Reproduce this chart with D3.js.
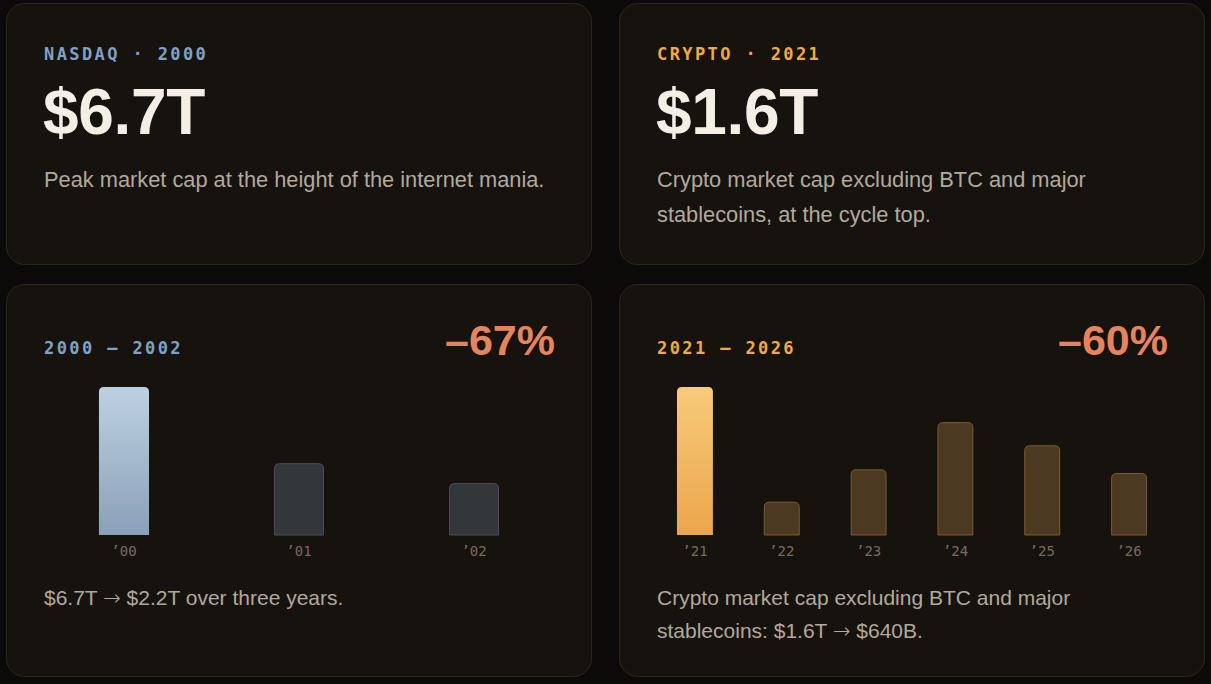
<!DOCTYPE html>
<html>
<head>
<meta charset="utf-8">
<script src="https://cdn.jsdelivr.net/npm/d3@7"></script>
<style>
  html, body { margin: 0; padding: 0; background: #0b0a09; }
  svg { display: block; }
</style>
</head>
<body>
<div id="chart"></div>
<script>
// data
const nasdaqYears = ["\u201900", "\u201901", "\u201902"];
const nasdaqValues = [6.7, 3.25, 2.35];          // $T, bar heights
const cryptoYears = ["\u201921", "\u201922", "\u201923", "\u201924", "\u201925", "\u201926"];
const cryptoValues = [1.6, 0.36, 0.71, 1.22, 0.97, 0.67]; // $T excl. BTC + stables

const headlines = ["NASDAQ \u00b7 2000", "CRYPTO \u00b7 2021"];
const bigNumbers = ["$6.7T", "$1.6T"];
const rangeLabels = ["2000 \u2013 2002", "2021 \u2013 2026"];
const drawdowns = ["\u201367%", "\u201360%"];
const topNotes = [
    ["Peak market cap at the height of the internet mania."],
    ["Crypto market cap excluding BTC and major", "stablecoins, at the cycle top."]
];
const bottomNotes = [
    ["$6.7T \u2192 $2.2T over three years."],
    ["Crypto market cap excluding BTC and major", "stablecoins: $1.6T \u2192 $640B."]
];

const width = 1211, height = 684;
const sans = "'Liberation Sans', Arial, sans-serif";
const mono = "'DejaVu Sans Mono', monospace";
const accent = ["#7fa1c5", "#f2a93e"];

const svg = d3.select("#chart")
    .append("svg")
    .attr("width", width)
    .attr("height", height);

svg.append("rect").attr("width", width).attr("height", height).attr("fill", "#0b0a09");

const defs = svg.append("defs");
function gradient(id, top, bottom) {
    const g = defs.append("linearGradient").attr("id", id)
        .attr("x1", 0).attr("x2", 0).attr("y1", 0).attr("y2", 1);
    g.append("stop").attr("offset", "0%").attr("stop-color", top);
    g.append("stop").attr("offset", "100%").attr("stop-color", bottom);
}
gradient("grad-nasdaq", "#bed1e3", "#8aa0b8");
gradient("grad-crypto", "#f7ca7a", "#eba64b");

// card frames
const cardX = [6.5, 619.5];
const cardW = 585;
const cards = [
    {x: cardX[0], y: 3.5, h: 261}, {x: cardX[1], y: 3.5, h: 261},
    {x: cardX[0], y: 284.5, h: 392}, {x: cardX[1], y: 284.5, h: 392}
];
svg.append("g").selectAll("rect")
    .data(cards)
    .enter()
    .append("rect")
    .attr("x", d => d.x).attr("y", d => d.y)
    .attr("width", cardW).attr("height", d => d.h)
    .attr("rx", 18)
    .attr("fill", "#16130f")
    .attr("stroke", "#2a2620")
    .attr("stroke-width", 1);

const padL = 37.5;

// note lines; the arrow gets a font with a longer glyph
function noteLines(sel, lines, x0, y0, step, size) {
    sel.append("g").selectAll("text")
        .data(lines)
        .enter()
        .append("text")
        .attr("x", x0)
        .attr("y", (d, k) => y0 + k * step)
        .attr("fill", "#b2a99c")
        .style("font", `${size}px ${sans}`)
        .each(function(d) {
            const t = d3.select(this);
            d.split("\u2192").forEach((part, j) => {
                if (j > 0) t.append("tspan").style("font-family", "'DejaVu Sans'")
                    .style("font-weight", 300).text("\u2192");
                t.append("tspan").text(part);
            });
        });
}

// top cards
[0, 1].forEach(i => {
    const x0 = cardX[i] + padL;
    svg.append("text")
        .attr("x", x0).attr("y", 59.5)
        .attr("fill", accent[i])
        .style("font", `bold 17px ${mono}`)
        .style("letter-spacing", "2.4px")
        .text(headlines[i]);
    svg.append("text")
        .attr("x", x0 - 1).attr("y", 133.5)
        .attr("fill", "#f3efe7")
        .style("font", `bold 64px ${sans}`)
        .style("letter-spacing", "-0.3px")
        .text(bigNumbers[i]);
    noteLines(svg, topNotes[i], x0, 187, 34.5, 21.8);
});

// bar charts
const y = d3.scaleLinear().range([535, 387]);
const charts = [
    {years: nasdaqYears, values: nasdaqValues, pi: 0.714, po: 0.314,
     hot: "url(#grad-nasdaq)", fill: "#34373a", stroke: "#4b4f55"},
    {years: cryptoYears, values: cryptoValues, pi: 0.586, po: 0.23,
     hot: "url(#grad-crypto)", fill: "#4b3a21", stroke: "#7c5c2d"}
];

function topRounded(x, yTop, w, h, r) {
    return `M${x},${yTop + h}V${yTop + r}Q${x},${yTop} ${x + r},${yTop}` +
        `H${x + w - r}Q${x + w},${yTop} ${x + w},${yTop + r}V${yTop + h}Z`;
}

charts.forEach((c, i) => {
    const x0 = cardX[i] + padL;
    const x1 = cardX[i] + cardW - padL;

    svg.append("text")
        .attr("x", x0).attr("y", 354)
        .attr("fill", accent[i])
        .style("font", `bold 17px ${mono}`)
        .style("letter-spacing", "2.4px")
        .text(rangeLabels[i]);
    svg.append("text")
        .attr("x", x1 + 1).attr("y", 354.5)
        .attr("text-anchor", "end")
        .attr("fill", "#e5845f")
        .style("font", `bold 43px ${sans}`)
        .text(drawdowns[i]);

    const x = d3.scaleBand()
        .domain(c.years)
        .range([x0, x1])
        .paddingInner(c.pi)
        .paddingOuter(c.po);
    y.domain([0, d3.max(c.values)]);

    const bars = c.years.map((yr, k) => ({year: yr, value: c.values[k], first: k === 0}));

    svg.append("g").selectAll("path")
        .data(bars)
        .enter()
        .append("path")
        .attr("d", d => topRounded(x(d.year) + (d.first ? 0 : 0.5), y(d.value) + (d.first ? 0 : 0.5),
            x.bandwidth() - (d.first ? 0 : 1), y(0) - y(d.value) - (d.first ? 0 : 0.5), 5))
        .attr("fill", d => d.first ? c.hot : c.fill)
        .attr("stroke", d => d.first ? "none" : c.stroke)
        .attr("stroke-width", 1);

    const axis = d3.axisBottom(x).tickSize(0).tickPadding(0);
    const ax = svg.append("g")
        .attr("transform", `translate(0,${y(0)})`)
        .call(axis);
    ax.select(".domain").remove();
    ax.selectAll("text")
        .attr("dy", null)
        .attr("y", 21)
        .attr("fill", "#766c5e")
        .style("font", `14px ${mono}`);

    noteLines(svg, bottomNotes[i], x0, 604.5, 33.5, 21);
});
</script>
</body>
</html>
